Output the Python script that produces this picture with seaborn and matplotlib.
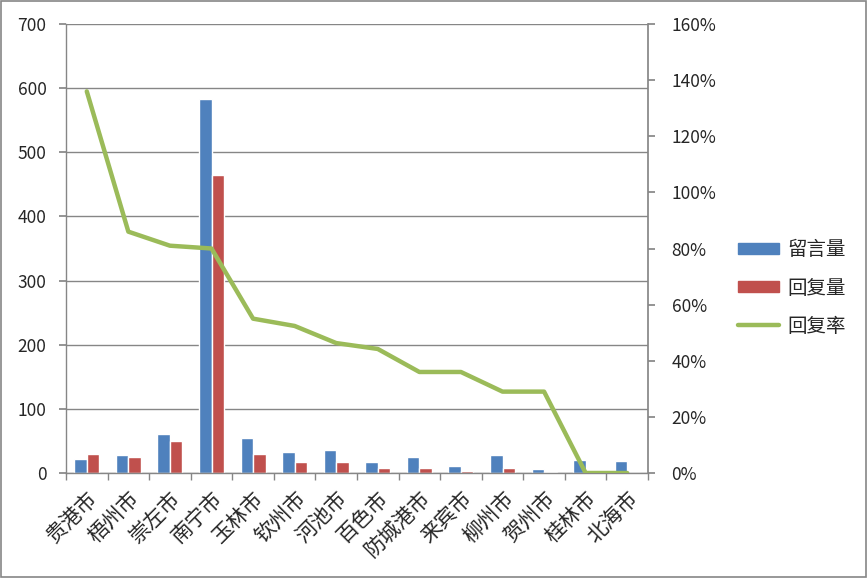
import matplotlib
matplotlib.use("Agg")
import matplotlib.pyplot as plt
import seaborn as sns
import pandas as pd
import numpy as np
from matplotlib.patches import Rectangle
from matplotlib.lines import Line2D
from matplotlib.ticker import FuncFormatter, FixedLocator

cities = ["贵港市", "梧州市", "崇左市", "南宁市", "玉林市", "钦州市", "河池市",
          "百色市", "防城港市", "来宾市", "柳州市", "贺州市", "桂林市", "北海市"]
messages = [22, 28, 61, 583, 54, 33, 36, 17, 25, 11, 28, 6, 20, 19]
replies = [30, 25, 50, 464, 30, 17, 17, 8, 8, 3, 8, 2, 0, 0]
rate = [1.36, 0.86, 0.81, 0.80, 0.55, 0.524, 0.463, 0.442, 0.36, 0.36, 0.29, 0.29, 0.0, 0.0]

sns.set_theme(style="white")
plt.rcParams['font.family'] = ['Noto Sans CJK SC', 'DejaVu Sans']

df = pd.DataFrame({
    "city": cities * 2,
    "value": messages + replies,
    "kind": ["留言量"] * len(cities) + ["回复量"] * len(cities),
})

fig = plt.figure(figsize=(8.68, 5.78), dpi=100)
ax = fig.add_axes([66/868, 105/578, 582/868, 449/578])
blue, red, green = "#4F81BD", "#C0504D", "#9BBB59"
sns.barplot(data=df, x="city", y="value", hue="kind", palette=[blue, red],
            width=0.6, ax=ax, legend=False, saturation=1, order=cities)
ax.set_xlim(-0.5, len(cities) - 0.5)
ax.set_ylim(0, 700)
ax.set_yticks(range(0, 701, 100))
ax.set_xlabel("")
ax.set_ylabel("")
ax.yaxis.grid(True, color="#868686", linewidth=1)
ax.set_axisbelow(True)
for s in ["top", "right"]:
    ax.spines[s].set_visible(False)
for s in ["left", "bottom"]:
    ax.spines[s].set_color("#868686")
    ax.spines[s].set_linewidth(1)
ax.tick_params(axis="y", labelsize=12.5, length=5, color="#868686", left=True, pad=9)
ax.set_xticks(range(len(cities)))
ax.set_xticklabels(cities, rotation=45, ha="right", rotation_mode="anchor", fontsize=15)
ax.tick_params(axis="x", length=0, pad=10)
ax.xaxis.set_minor_locator(FixedLocator(np.arange(-0.5, len(cities), 1.0)))
ax.tick_params(axis="x", which="minor", length=5, color="#868686", bottom=True)

ax2 = ax.twinx()
sns.lineplot(x=np.arange(len(cities)), y=rate, ax=ax2, color=green, linewidth=3.2)
ax2.set_ylim(0, 1.6)
ax2.set_yticks(np.arange(0, 1.61, 0.2))
ax2.yaxis.set_major_formatter(FuncFormatter(lambda v, p: f"{v*100:.0f}%"))
ax2.tick_params(axis="y", labelsize=12.5, length=5, color="#868686", right=True, pad=12)
for s in ["top", "left", "bottom"]:
    ax2.spines[s].set_visible(False)
ax2.spines["right"].set_color("#868686")
ax2.grid(False)

handles = [Rectangle((0, 0), 1, 1, color=blue), Rectangle((0, 0), 1, 1, color=red),
           Line2D([0], [0], color=green, linewidth=3.2)]
fig.legend(handles, ["留言量", "回复量", "回复率"], loc="center left",
           bbox_to_anchor=(738/868, 1 - 288/578), frameon=False, fontsize=14,
           handlelength=2.1, handleheight=0.5, labelspacing=0.88, handletextpad=0.45,
           borderaxespad=0, borderpad=0)

fig.patches.append(Rectangle((0.001, 0.001), 0.997, 0.997, transform=fig.transFigure,
                             fill=False, edgecolor="#868686", linewidth=1.2))
fig.savefig("out.png", dpi=100)
